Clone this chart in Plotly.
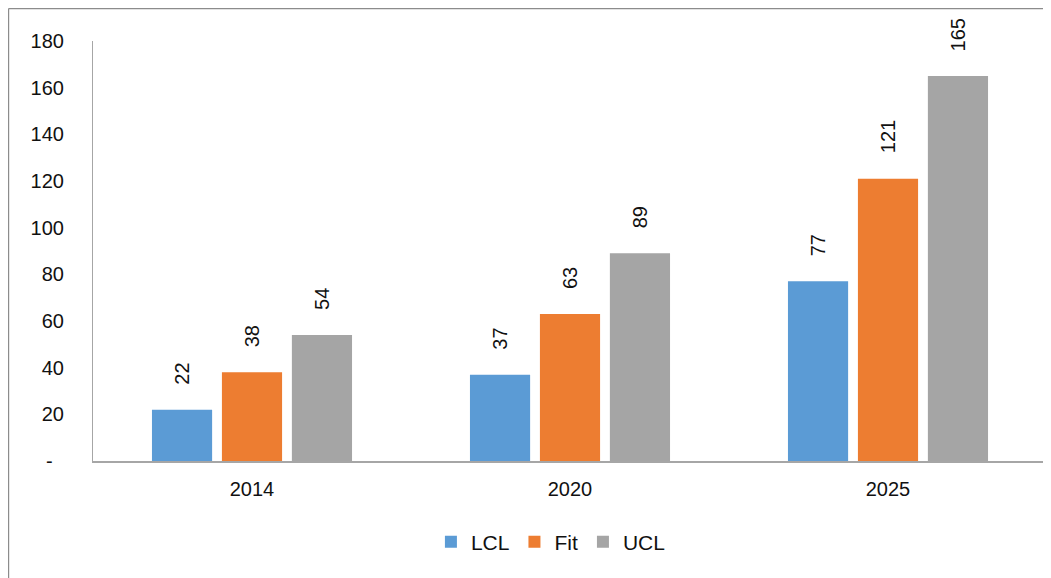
import plotly.graph_objects as go

years = ["2014", "2020", "2025"]
series = ["LCL", "Fit", "UCL"]
lcl = [22, 37, 77]
fit = [38, 63, 121]
ucl = [54, 89, 165]
colors = ["#5B9BD5", "#ED7D31", "#A5A5A5"]
ytickvals = [0, 20, 40, 60, 80, 100, 120, 140, 160, 180]
yticktext = ["-\u00a0\u00a0", "20", "40", "60", "80", "100", "120", "140", "160", "180"]

FONT = "Liberation Sans, Arial, sans-serif"
TXT = "#111111"
# page body adds an 8px offset, so the figure itself starts at (8, 8)
W, H = 1043, 570
margin = dict(l=85, r=4, t=33, b=117)
plot_w = W - margin["l"] - margin["r"]
plot_h = H - margin["t"] - margin["b"]

bargap = 0.34
slot = plot_w / len(years) * (1 - bargap) / len(series)

fig = go.Figure()
for i, (name, vals) in enumerate(zip(series, [lcl, fit, ucl])):
    fig.add_trace(go.Bar(
        x=years, y=vals, name=name,
        marker=dict(color=colors[i], line=dict(width=0)),
        hoverinfo="x+y+name",
    ))
    # rotated value labels above bars (x = category index, numeric-looking names
    # would otherwise be read as positions)
    for j, v in enumerate(vals):
        fig.add_annotation(
            x=j, y=v, xref="x", yref="y",
            text=str(v), textangle=-90, showarrow=False,
            xanchor="center", yanchor="bottom",
            xshift=(i - 1) * slot, yshift=23,
            font=dict(family=FONT, size=20, color=TXT),
        )

# outer frame (left and top edges visible)
def px_x(p):
    return (p - margin["l"]) / plot_w

def px_y(p):
    return (H - margin["b"] - p) / plot_h

line_style = dict(color="#8c8c8c", width=1.2)
fig.add_shape(type="line", xref="paper", yref="paper",
              x0=px_x(0.6), x1=px_x(W), y0=px_y(0.6), y1=px_y(0.6), line=line_style)
fig.add_shape(type="line", xref="paper", yref="paper",
              x0=px_x(0.6), x1=px_x(0.6), y0=px_y(0.6), y1=px_y(H), line=line_style)

fig.update_layout(
    width=W, height=H,
    margin=margin,
    barmode="group",
    bargap=bargap,
    bargroupgap=0.14,
    plot_bgcolor="white",
    paper_bgcolor="white",
    font=dict(family=FONT, size=20, color=TXT),
    xaxis=dict(
        type="category", range=[-0.5, len(years) - 0.5],
        showgrid=False, zeroline=False,
        showline=True, linecolor="#a6a6a6", linewidth=1.5,
        ticks="", ticklabelstandoff=9, automargin=False,
    ),
    yaxis=dict(
        range=[0, 180],
        tickvals=ytickvals, ticktext=yticktext,
        showgrid=False, zeroline=False,
        showline=True, linecolor="#a6a6a6", linewidth=1.2,
        ticks="", ticklabelstandoff=24, automargin=False,
    ),
    legend=dict(
        orientation="h", x=0.48, xanchor="center",
        y=px_y(534), yanchor="middle",
        font=dict(family=FONT, size=21, color=TXT),
        itemwidth=30, traceorder="normal",
    ),
)

fig.write_html("out.html")
